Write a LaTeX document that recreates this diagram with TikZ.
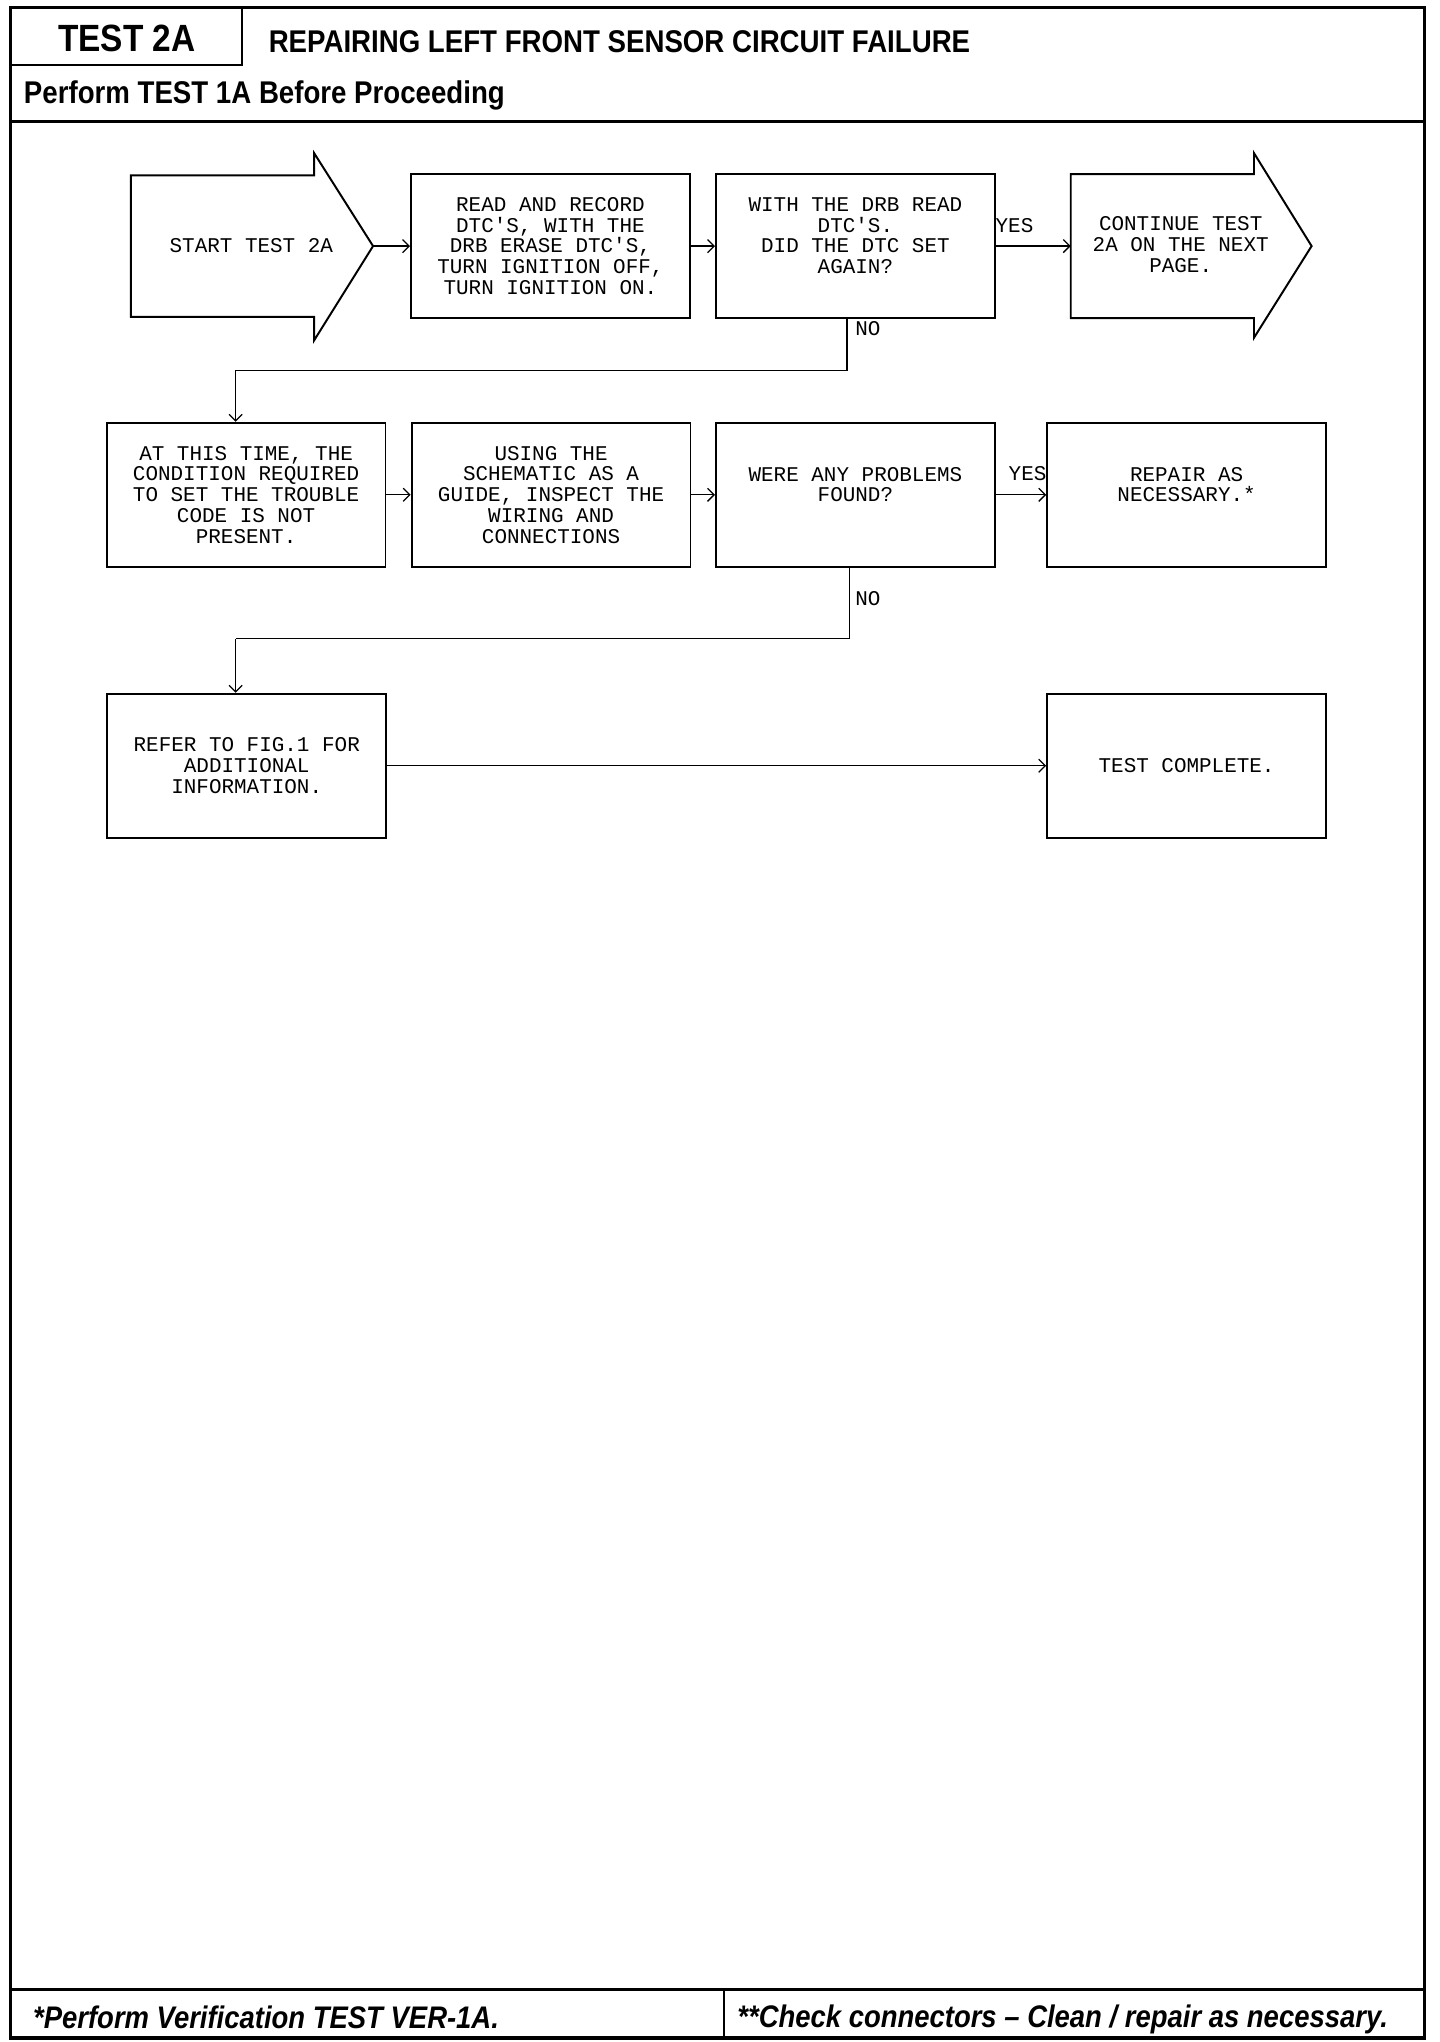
\documentclass[tikz,border=0pt]{standalone}
\usepackage{fontspec}
\setmonofont{Liberation Mono}
\newfontfamily\hdr[FakeStretch=0.88]{Liberation Sans}
\usetikzlibrary{arrows.meta}
\begin{document}
\begin{tikzpicture}[x=0.6pt,y=-0.6pt,
  box/.style={draw,line width=0.9pt,minimum width=127.8pt,minimum height=66pt,
    inner sep=0pt,align=center,font=\ttfamily\fontsize{9.6}{9.5}\selectfont},
  shapetxt/.style={inner sep=0pt,align=center,font=\ttfamily\fontsize{9.6}{9.5}\selectfont},
  lbl/.style={inner sep=0pt,font=\ttfamily\fontsize{9.6}{9.5}\selectfont},
  shp/.style={draw,line width=0.9pt,line join=miter},
  conn/.style={line width=0.6pt,-{Straight Barb[length=3pt,width=6pt]}},
  flow/.style={line width=0.6pt},
  hdrtxt/.style={inner sep=0pt,anchor=west,font=\hdr\bfseries\fontsize{14.4}{14.4}\selectfont},
  foottxt/.style={inner sep=0pt,anchor=base west,font=\hdr\bfseries\itshape\fontsize{14.3}{14.3}\selectfont}]
\useasboundingbox (0,0) rectangle (1100,1560);
% frame
\draw[line width=1.5pt] (8,6) rectangle (1088,1557);
\draw[line width=0.9pt] (8,6) rectangle (185,50);
\draw[line width=1.2pt] (8,93) -- (1088,93);
\draw[line width=1.2pt] (8,1520) -- (1088,1520);
\draw[line width=0.9pt] (553,1520) -- (553,1557);
% header texts
\node[inner sep=0pt,font=\hdr\bfseries\fontsize{17.4}{17.4}\selectfont] (t1) at (97,29) {TEST 2A};
\node[hdrtxt] (t2) at (205,32) {REPAIRING LEFT FRONT SENSOR CIRCUIT FAILURE};
\node[hdrtxt] (t3) at (18,73) {Perform TEST 1A Before Proceeding};
\node[foottxt] (f1) at (25,1550) {*Perform Verification TEST VER-1A.};
\node[foottxt] (f2) at (563,1549) {**Check connectors – Clean / repair as necessary.};
% start arrow
\draw[shp] (100,134) -- (240,134) -- (240,117) -- (285,188) -- (240,260) -- (240,242) -- (100,242) -- cycle;
\coordinate (sTip) at (285,188);
\node[shapetxt] (sTxt) at (192,188) {START TEST 2A};
% continue arrow
\draw[shp] (818,133) -- (958,133) -- (958,117) -- (1002,188) -- (958,258) -- (958,243) -- (818,243) -- cycle;
\coordinate (cL) at (818,188);
\node[shapetxt] (cTxt) at (902,187) {CONTINUE TEST\\2A ON THE NEXT\\PAGE.};
% boxes
\node[box] (b2) at (420.5,188) {READ AND RECORD\\DTC'S, WITH THE\\DRB ERASE DTC'S,\\TURN IGNITION OFF,\\TURN IGNITION ON.};
\node[box] (b3) at (653.5,188) {WITH THE DRB READ\\DTC'S.\\DID THE DTC SET\\AGAIN?\\\mbox{}};
\node[box] (bA) at (188,378) {AT THIS TIME, THE\\CONDITION REQUIRED\\TO SET THE TROUBLE\\CODE IS NOT\\PRESENT.};
\node[box] (bB) at (421,378) {USING THE\\SCHEMATIC AS A\\GUIDE, INSPECT THE\\WIRING AND\\CONNECTIONS};
\node[box] (bC) at (653.5,378) {WERE ANY PROBLEMS\\FOUND?\\\mbox{}};
\node[box] (bD) at (906.5,378) {REPAIR AS\\NECESSARY.*\\\mbox{}};
\node[box] (bE) at (188.5,585) {REFER TO FIG.1 FOR\\ADDITIONAL\\INFORMATION.};
\node[box] (bF) at (906.5,585) {TEST COMPLETE.};
% connectors row 1
\draw[conn] (sTip) -- (b2.west);
\draw[conn] (b2.east) -- (b3.west);
\draw[conn] (b3.east) -- (cL);
\node[lbl] (y1) at (775,172) {YES};
\coordinate (n1) at (647,283);
\coordinate (n1b) at (180,283);
\draw[flow] (b3.south -| n1) -- (n1) -- (n1b);
\draw[conn] (n1b) -- (n1b |- bA.north);
\node[lbl] (no1) at (663,251) {NO};
% row 2
\draw[conn] (bA.east) -- (bB.west);
\draw[conn] (bB.east) -- (bC.west);
\draw[conn] (bC.east) -- (bD.west);
\node[lbl] (y2) at (785,362) {YES};
\coordinate (n2) at (649,488);
\coordinate (n2b) at (180,488);
\draw[flow] (bC.south -| n2) -- (n2) -- (n2b);
\draw[conn] (n2b) -- (n2b |- bE.north);
\node[lbl] (no2) at (663,457) {NO};
% row 3
\draw[conn] (bE.east) -- (bF.west);
\end{tikzpicture}
\end{document}
